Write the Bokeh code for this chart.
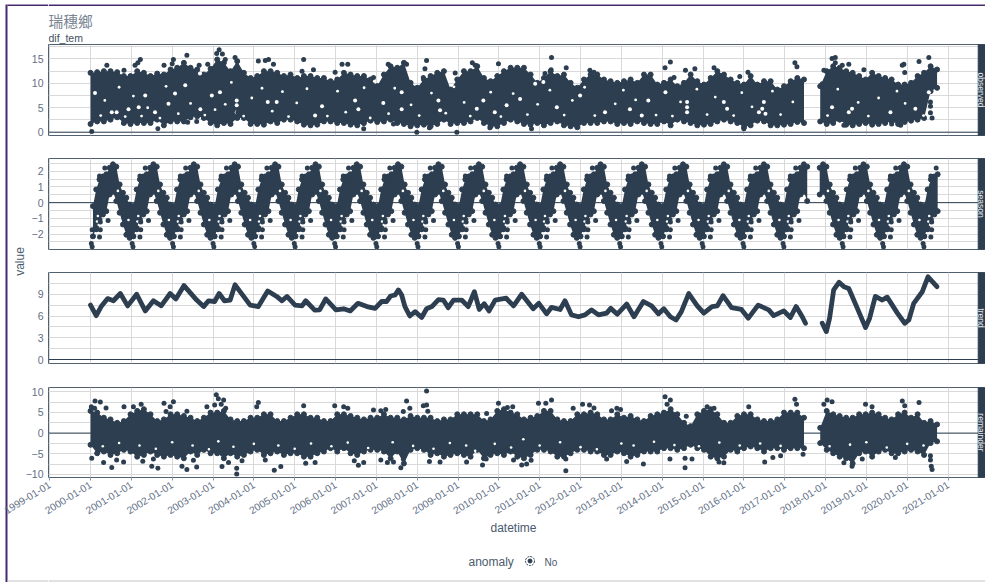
import numpy as np
import pandas as pd
from bokeh.embed import file_html
from bokeh.resources import INLINE
from bokeh.plotting import figure
from bokeh.layouts import column, row
from bokeh.models import Range1d, FixedTicker, DatetimeTickFormatter
from bokeh.core.properties import value

INK = "#2c3e50"
tick_labels = ["%d-01-01" % y for y in range(1999, 2022)]
panel_names = ["observed", "season", "trend", "remainder"]

# ---- observed: upper and lower edge of the cloud, read every 0.1633 year from 2000-01-01
obs_hi_a = [12.16,12.3,12.5,12.5,12.3,11.5,11.5,12.5,12.16,11.5,12.0,11.8,12.84,13.2,14.2,13.2,12.84,11.8,13.0,14.9,14.2,12.5,14.55,12.16,11.1,11.5,12.5,12.5,12.16,11.5,11.8,11.1,11.5,11.5,11.1,11.1,10.45,10.8,12.16,11.8,11.5,11.5,10.8,9.45,
 11.8,13.5,13.2,14.2,10.1,9.1,10.8,11.5,12.16,12.5,8.73,10.8,12.5,12.5,13.5,11.1,10.45,11.5,12.5,13.2,13.2,13.2,11.8,10.1,11.1,12.5,11.5,11.8,10.1,9.1,10.8,11.8,11.8,10.8,10.45,10.1,10.45,10.8,10.1,11.8,11.8,9.76,
 10.1,10.8,9.42,10.1,11.8,10.45,9.76,11.1,12.5,11.8,10.8,10.1,9.76,11.5,9.76,10.45,10.45,8.73,9.42,10.45,11.1,10.8]
obs_lo_a = [1.68,2.2,2.2,2.57,3.05,1.88,1.68,1.88,1.88,1.88,2.57,1.4,2.2,2.2,2.2,3.05,3.25,2.9,1.88,1.4,1.88,1.68,2.9,2.9,1.68,1.68,1.54,2.2,1.88,2.57,2.57,2.2,1.54,1.4,1.54,2.2,2.2,1.88,1.88,1.54,1.4,1.88,2.36,2.09,
 2.2,2.57,1.88,1.68,1.2,1.4,1.54,1.2,1.68,2.57,1.68,1.88,1.88,2.2,2.9,1.88,1.2,1.2,1.88,2.57,2.2,1.68,1.54,1.88,1.4,1.88,2.2,1.4,1.2,1.0,1.88,1.88,1.88,2.2,2.2,1.68,1.88,1.68,2.2,1.88,1.68,1.68,
 2.2,1.4,2.57,2.2,1.88,1.4,1.54,1.68,2.2,2.57,2.2,1.88,1.0,1.4,2.36,2.2,1.4,1.4,1.54,1.68,2.09,1.88]
# after the gap, read every 0.159 year from 2017.87
obs_hi_b = [9.42,12.5,13.5,13.2,12.5,12.16,11.5,10.8,12.16,11.5,11.1,10.8,9.76,9.76,10.1,11.5,12.16,13.5,12.84]
obs_lo_b = [2.2,1.68,1.88,2.57,1.54,1.4,1.68,1.88,1.54,1.68,1.88,2.2,1.68,2.09,2.36,2.57,2.9,8.4,9.08]
# single points standing clear of the cloud (years after 2000, value)
obs_pt_t = [.03,.4,.82,1.09,1.22,1.16,1.8,2.03,2.0,2.36,2.66,2.87,3.15,3.09,3.23,3.3,3.54,4.11,4.36,4.28,4.48,5.22,5.18,5.46,6.16,6.3,5.99,1.65,2.38,2.6,3.61,6.69,6.69,
 6.93,7.74,7.29,8.23,8.19,8.15,8.93,9.35,9.42,9.99,11.29,11.65,11.28,11.13,7.99,8.3,8.97,10.8,9.78,7.42,12.23,12.33,
 14.2,14.07,14.29,14.8,14.57,15.27,15.9,16.1,17.25,17.3,16.0,18.24,18.16,18.24,17.96,18.41,18.57,18.94,19.88,19.92,19.94,20.29,20.53,18.45,19.62,19.84,17.92,20.57,20.57,20.57,20.61]
obs_pt_v = [.14,13.7,12.7,13.7,14.9,14.2,13.7,14.9,14.0,15.75,13.7,13.9,16.9,16.1,16.0,14.9,15.3,14.6,14.9,14.7,13.9,14.9,12.5,12.8,13.9,13.9,12.3,.7,2.05,2.2,4.1,.7,1.85,
 11.2,13.9,13.9,14.7,13.0,11.2,12.1,14.2,13.7,14.0,15.3,13.2,12.8,12.0,0.0,.9,0.0,.7,.9,1.7,12.7,12.3,
 14.4,13.2,11.2,13.0,12.7,13.2,11.4,12.3,14.2,13.4,.7,15.3,15.1,14.2,12.7,13.7,13.9,12.8,13.7,13.9,12.2,14.5,15.3,1.4,1.7,1.4,9.9,6.2,5.3,4.0,2.9]
# open places inside the cloud
obs_gap_t = [.64,.52,1.58,1.34,.11,2.68,2.97,3.17,3.58,3.58,3.58,2.69,2.07,2.32,4.56,4.34,5.67,5.5,6.56,6.48,1.91,1.18,.93,
 7.17,7.62,7.62,8.52,9.46,9.9,9.62,8.56,10.52,10.19,10.89,11.09,11.42,11.99,12.6,13.21,13.5,13.66,
 14.61,14.61,14.61,15.51,16.45,16.53,16.37,16.49,18.57,18.16,18.65,19.59,20.2,20.53,15.59,14.08]
obs_gap_v = [4.1,4.1,4.1,7.5,8.0,12.0,7.5,8.2,5.5,6.5,4.1,4.7,7.9,9.6,6.2,6.2,5.3,3.4,4.7,6.5,5.8,5.1,4.7,
 6.0,8.2,4.7,6.5,4.8,4.1,6.5,4.5,6.8,5.5,9.9,10.3,5.1,7.5,4.1,4.7,3.4,6.5,
 4.1,5.1,6.2,6.2,4.8,3.8,4.1,6.2,4.1,5.1,4.8,4.1,4.8,8.2,4.8,8.2]
# smaller open places
obs_fleck_t = [.25,.35,.7,.85,1.05,1.25,1.4,1.7,1.85,2.15,2.45,2.8,3.05,3.3,3.45,3.75,3.95,4.2,4.45,4.7,4.85,5.05,5.3,5.8,6.05,6.25,6.7,6.85,
 7.3,7.45,7.85,8.05,8.35,8.7,8.9,9.15,9.3,9.8,10.05,10.35,10.7,10.95,11.25,11.6,11.8,12.1,12.35,12.85,13.05,13.35,13.85,
 14.25,14.45,14.85,15.1,15.3,15.75,15.95,16.2,16.7,16.9,17.2,18.05,18.3,18.8,19.05,19.3,19.75,19.95,20.4]
obs_fleck_v = [3.4,6.5,9.2,3.2,7.4,3.3,5.0,2.9,9.4,3.8,5.9,3.5,4.6,5.7,10.2,3.3,7.0,9.0,4.3,8.3,3.2,6.0,8.9,3.3,8.4,4.1,9.1,2.9,
 3.8,9.0,5.6,3.4,8.0,3.9,9.3,6.1,3.3,8.2,3.2,7.9,3.6,5.7,8.6,3.5,6.5,9.2,3.4,5.8,8.6,6.6,3.5,
 3.3,6.2,8.8,3.6,7.2,3.4,8.1,5.2,8.4,3.6,6.2,3.4,8.8,6.1,3.3,7.0,8.4,5.9,3.4]

# ---- season: the yearly cycle, read around its peak
season_peaks_a = [-.45,.55,1.54,2.53,3.53,4.52,5.51,6.52,7.53,8.52,9.51,10.52,11.5,12.49,13.5,14.51,15.51,16.49,17.47]
season_peaks_b = [17.94,18.93,19.92,20.91]
season_off = [-.49,-.41,-.33,-.245,-.163,-.082,0,.082,.163,.245,.327,.408]
season_hi = [-.22,.84,1.48,1.58,1.8,2.22,2.44,2.29,1.16,.63,.31,-.12]
season_lo = [-2.14,-1.61,-1.07,-.75,-.54,.52,.69,.1,-.64,-1.39,-2.04,-2.24]
season_pt_off = [-.2,-.33,-.245,-.12,-.31,-.31,-.41,-.51,-.49,-.33,.47,.49]
season_pt_val = [2.2,1.7,1.7,-1.13,-1.23,-1.72,-1.72,-1.72,-2.15,-2.19,-2.6,-2.8]
season_gap_off = [-.37,-.39,.12,.38]
season_gap_val = [-.85,-1.2,.75,-1.1]

# ---- trend
trend_t = [0,.14,.26,.42,.56,.73,.91,1.13,1.34,1.54,1.73,1.95,2.09,2.29,2.6,2.77,2.89,3.04,3.15,3.28,3.42,3.54,3.75,3.91,4.11,4.34,4.56,4.69,4.81,5.01,5.18,5.27,5.49,5.61,5.76,6.01,6.2,6.36,6.55,6.77,6.97,
 7.13,7.25,7.35,7.46,7.54,7.62,7.7,7.82,7.95,8.11,8.23,8.36,8.52,8.64,8.76,8.89,9.09,9.25,9.4,9.52,9.64,9.76,9.91,10.18,10.36,10.56,10.84,10.98,11.17,11.29,11.5,11.62,11.78,11.95,12.11,12.27,12.44,12.64,12.74,12.9,13.13,13.31,13.54,13.74,13.91,
 14.04,14.2,14.34,14.47,14.65,14.86,15.02,15.22,15.35,15.49,15.7,15.94,16.11,16.35,16.61,16.73,16.98,17.14,17.28,17.43,17.51]
trend_v = [7.5,6.05,7.3,8.4,8.1,9.1,7.4,9.0,6.7,8.1,7.4,9.1,8.35,10.2,8.2,7.3,8.1,8.0,9.1,8.1,8.2,10.3,8.7,7.5,7.3,9.45,8.7,8.1,8.7,7.5,7.4,8.1,6.8,6.85,8.35,6.85,7.0,6.7,7.75,7.3,7.05,
 8.0,8.0,8.76,8.9,9.6,8.9,7.3,6.0,6.6,5.8,7.0,7.3,8.25,8.2,7.15,8.2,8.2,7.3,9.35,6.9,7.7,6.7,8.2,8.45,7.4,9.0,7.0,7.75,6.3,7.2,6.9,8.1,6.15,5.9,6.15,6.85,6.15,6.4,7.05,6.25,7.65,5.9,8.0,7.4,6.3,
 7.0,5.9,5.45,6.6,9.1,7.4,6.4,7.3,7.4,8.8,7.15,6.9,5.7,7.5,6.85,6.05,6.7,5.8,7.3,5.9,5.0]
trend_t_b = [17.92,18.02,18.1,18.2,18.33,18.45,18.57,18.78,18.98,19.08,19.22,19.39,19.51,19.76,19.94,20.04,20.16,20.37,20.51,20.73]
trend_v_b = [5.0,3.85,5.7,9.6,10.65,10.05,9.8,7.05,4.4,5.7,8.7,8.2,8.6,6.4,5.0,5.45,7.75,9.35,11.4,10.05]

# ---- remainder: upper and lower edge of the cloud, same reading steps as observed
rem_hi_a = [5.37,4.96,3.73,3.32,2.5,2.91,4.55,5.37,5.78,4.55,2.91,3.32,4.55,4.55,4.14,3.73,2.91,3.73,4.96,4.96,5.37,3.32,2.91,2.91,3.73,3.73,4.55,4.55,2.91,2.91,3.73,4.55,4.55,3.73,3.73,2.91,2.91,4.55,4.55,4.14,3.73,3.32,3.73,3.73,
 4.55,3.73,3.73,3.32,4.14,3.73,3.73,3.73,2.91,3.32,3.32,4.55,4.55,4.55,4.55,2.91,3.32,5.37,5.78,4.96,4.55,3.32,3.73,4.14,5.37,5.37,3.32,2.91,2.91,4.55,4.55,4.96,4.55,3.32,3.32,4.55,3.73,4.14,3.32,2.91,4.14,4.55,
 4.96,5.78,4.55,2.5,1.68,4.55,5.37,5.78,4.55,2.5,2.5,4.14,4.55,4.55,3.32,2.91,2.91,3.32,4.96,4.96,4.96,3.73]
rem_lo_a = [-2.83,-4.88,-4.47,-5.29,-4.88,-4.06,-4.47,-5.7,-5.29,-4.47,-5.29,-5.7,-5.29,-5.7,-6.1,-4.47,-5.29,-4.06,-4.88,-4.88,-6.1,-4.88,-5.7,-5.29,-4.47,-4.06,-5.29,-4.88,-4.47,-5.29,-4.88,-4.88,-5.7,-5.7,-4.88,-4.47,-3.65,-4.47,-3.65,-4.88,-5.29,-4.47,-4.06,-4.06,
 -4.47,-6.1,-4.47,-7.34,-4.06,-3.65,-4.06,-5.29,-4.88,-5.7,-5.29,-4.88,-5.29,-5.7,-4.06,-6.1,-5.29,-4.88,-5.29,-4.47,-5.7,-6.1,-5.29,-4.06,-4.06,-4.47,-5.7,-5.7,-4.88,-4.06,-4.06,-4.47,-4.47,-5.29,-5.29,-4.47,-4.88,-5.7,-5.29,-4.47,-4.47,-4.47,
 -3.65,-3.65,-4.06,-3.65,-2.83,-3.65,-4.06,-5.7,-6.1,-5.7,-4.06,-4.47,-3.65,-3.24,-3.65,-4.47,-3.65,-3.65,-4.06,-3.65,-3.65,-3.65]
rem_hi_b = [1.27,5.37,4.55,4.14,3.73,3.73,4.55,4.55,4.96,4.55,3.73,3.32,4.55,4.96,3.73,4.55,2.5,2.91,2.09]
rem_lo_b = [-2.42,-4.06,-4.88,-5.7,-6.1,-7.34,-4.88,-4.47,-5.7,-4.47,-4.06,-4.88,-4.88,-4.47,-4.06,-4.47,-5.29,-2.42,-2.0]
rem_pt_t = [.11,.24,.38,.02,.1,.82,1.05,1.24,1.8,2.03,1.95,1.85,2.36,3.08,3.13,3.26,3.2,3.04,3.31,2.85,4.07,4.11,5.22,5.98,6.2,6.3,6.93,
 .03,.32,.52,.64,.81,1.28,1.5,1.65,1.54,2.24,2.36,2.6,2.52,3.22,3.38,3.58,3.58,3.71,4.28,4.5,4.66,5.27,5.5,6.46,6.56,6.69,
 7.11,7.23,7.74,7.82,7.66,8.23,8.15,8.23,8.26,9.7,9.99,10.21,10.34,10.97,11.15,11.29,11.82,12.05,12.22,12.33,12.76,12.89,12.98,
 7.11,7.27,7.42,7.6,7.66,8.3,8.56,9.21,9.6,9.69,10.36,10.56,10.68,10.79,11.64,11.64,12.64,13.13,13.54,
 14.07,14.2,14.12,14.59,15.1,15.27,16.12,17.25,17.29,18.04,18.16,17.96,18.98,19.88,19.94,20.29,19.14,
 14.19,14.56,14.56,14.73,15.39,15.51,16.51,16.71,16.9,17.45,18.45,18.65,18.9,19.71,20.57,20.57,20.59,20.61]
rem_pt_v = [7.8,7.5,6.1,6.4,6.0,6.4,6.4,7.0,7.2,7.6,6.4,5.2,5.3,9.3,8.3,8.0,7.0,6.8,6.0,6.4,6.4,7.4,6.6,6.6,6.4,6.0,5.6,
 -6.1,-7.1,-8.3,-6.5,-7.0,-6.8,-8.0,-8.5,-6.3,-8.0,-8.8,-8.2,-6.6,-8.1,-7.1,-8.5,-9.9,-6.7,-6.5,-9.0,-8.1,-7.3,-7.1,-6.7,-7.8,-7.1,
 5.4,5.7,7.8,6.0,5.2,10.2,6.6,6.8,5.3,4.75,7.2,6.2,6.4,7.2,7.2,8.0,6.0,7.0,6.8,6.1,5.4,6.0,5.7,
 -6.5,-7.1,-7.0,-8.4,-6.3,-6.9,-7.0,-7.0,-7.7,-6.3,-6.5,-7.7,-7.5,-6.6,-9.1,-6.3,-6.3,-6.9,-7.5,
 8.8,8.0,7.0,4.1,6.4,6.0,6.4,8.2,7.0,8.0,7.6,7.0,7.0,7.8,6.6,7.4,6.4,
 -6.3,-6.1,-8.4,-6.3,-7.0,-7.2,-7.0,-5.9,-5.5,-5.1,-7.2,-8.0,-6.3,-5.9,-5.5,-6.5,-8.0,-8.8]
rem_gap_t = [.3,.7,1.2,1.6,2.0,2.5,2.9,3.13,3.5,4.0,4.6,5.0,5.4,5.9,6.3,6.8,7.4,7.9,8.4,8.8,9.2,9.42,9.9,10.3,10.6,11.0,11.5,12.0,12.4,13.0,13.3,13.8,14.3,14.9,15.4,15.9,16.4,16.9,18.1,18.6,19.0,19.5,20.0,20.4]
rem_gap_v = [-3.2,-2.4,-3.0,-3.8,-2.2,-3.0,-3.9,-2.0,-3.3,-2.6,-3.0,-3.8,-2.5,-3.2,-2.3,-3.6,-2.2,-3.1,-3.8,-2.4,-3.0,-4.3,-2.6,-3.5,-1.5,-3.0,-2.2,-3.4,-3.9,-2.5,-3.0,-2.1,-2.9,-3.2,-2.3,-3.0,-2.5,-3.1,-3.2,-2.8,-2.2,-3.5,-2.6,-3.0]

# axis set-up, value ranges per panel
yticks = [[0,5,10,15],[-2,-1,0,1,2],[0,3,6,9],[-10,-5,0,5,10]]
yminor = [[2.5,7.5,12.5,17.5],[-2.5,-1.5,-.5,.5,1.5,2.5],[1.5,4.5,7.5,10.5],[-7.5,-2.5,2.5,7.5]]
yspans = [(-.68,17.96),(-2.98,2.81),(-.55,12.0),(-10.75,11.04)]

EPOCH = pd.Timestamp("2000-01-01").value / 1e6
YEAR = 365.25 * 86400000.0
def when(t):
    return EPOCH + np.asarray(t, dtype=float) * YEAR

x_start, strip_start, strip_mid, x_end = when(-1.029), when(21.74), when(21.81), when(21.918)
xticks = [pd.Timestamp(s).value / 1e6 for s in tick_labels]
GRID = "#d9d9d9"
LABEL = "#5f6f86"
FONT = "Liberation Sans"
LEFT = 48


def panel(i, height, top, bottom, is_last=False):
    p = figure(width=937 + LEFT, height=height, x_axis_type="datetime", output_backend="svg",
               toolbar_location=None, x_range=Range1d(float(x_start), float(x_end)),
               y_range=Range1d(*yspans[i]), min_border_left=LEFT, min_border_right=0,
               min_border_top=top, min_border_bottom=bottom, background_fill_color="white",
               border_fill_color=None, outline_line_color="#50606f", outline_line_width=1)
    p.xaxis.ticker = FixedTicker(ticks=xticks)
    p.yaxis.ticker = FixedTicker(ticks=yticks[i], minor_ticks=yminor[i])
    p.xgrid.ticker = FixedTicker(ticks=xticks)
    p.ygrid.ticker = FixedTicker(ticks=yticks[i], minor_ticks=yminor[i])
    p.xgrid.grid_line_color = GRID
    p.ygrid.grid_line_color = GRID
    p.ygrid.minor_grid_line_color = GRID
    p.yaxis.axis_line_color = None
    p.yaxis.major_tick_line_color = None
    p.yaxis.minor_tick_line_color = None
    p.yaxis.major_tick_out = 0
    p.yaxis.major_tick_in = 0
    p.yaxis.minor_tick_out = 0
    p.yaxis.minor_tick_in = 0
    p.yaxis.major_label_standoff = 5
    p.yaxis.major_label_text_font = FONT
    p.yaxis.major_label_text_font_size = "10.5px"
    p.yaxis.major_label_text_color = LABEL
    p.xaxis.visible = is_last
    p.xaxis.axis_line_color = None
    p.xaxis.minor_tick_line_color = None
    if is_last:
        fmt = "%Y-%m-%d"
        p.xaxis.formatter = DatetimeTickFormatter(years=fmt, months=fmt, days=fmt, hours=fmt,
                                                  minutes=fmt, seconds=fmt, context=None)
        p.xaxis.major_label_orientation = 0.55
        p.xaxis.major_tick_line_color = "#8a97a5"
        p.xaxis.major_tick_out = 3
        p.xaxis.major_tick_in = 0
        p.xaxis.major_label_standoff = 3
        p.xaxis.major_label_text_font = FONT
        p.xaxis.major_label_text_font_size = "10.3px"
        p.xaxis.major_label_text_color = LABEL
    p.quad(left=[float(strip_start)], right=[float(x_end)], bottom=[yspans[i][0]], top=[yspans[i][1]],
           fill_color=INK, line_color=INK)
    p.text(x=[float(strip_mid)], y=[sum(yspans[i]) / 2], text=[panel_names[i]], angle=-np.pi / 2,
           text_color="#e6e9ee", text_font=value(FONT), text_font_size="8.5px",
           text_align="center", text_baseline="middle")
    return p


def band(p, t, hi, lo):
    x = when(t)
    p.varea(x=x, y1=lo, y2=hi, fill_color=INK)
    p.scatter(x=x, y=hi, size=5, color=INK)
    p.scatter(x=x, y=lo, size=5, color=INK)


def dots(p, t, v, size=5, color=INK):
    p.scatter(x=when(t), y=v, size=size, color=color, line_color=None)


def zero_line(p):
    p.line(x=[float(x_start), float(strip_start)], y=[0, 0], line_color=INK, line_width=1)


f1 = panel(0, 103, 0, 12)
t_a = np.arange(len(obs_hi_a)) * 0.1633
t_b = 17.87 + np.arange(len(obs_hi_b)) * 0.159
zero_line(f1)
band(f1, t_a, obs_hi_a, obs_lo_a)
band(f1, t_b, obs_hi_b, obs_lo_b)
dots(f1, obs_gap_t, obs_gap_v, 4, "white")
dots(f1, obs_fleck_t, obs_fleck_v, 2.8, "white")
dots(f1, obs_pt_t, obs_pt_v)

f2 = panel(1, 113, 11, 11)
zero_line(f2)
off, hi, lo = np.array(season_off), np.array(season_hi), np.array(season_lo)
for peaks, t0, t1 in ((season_peaks_a, 0.0, 17.56), (season_peaks_b, 17.84, 20.75)):
    tt = np.concatenate([pk + off for pk in peaks])
    hh = np.tile(hi, len(peaks))
    ll = np.tile(lo, len(peaks))
    keep = (tt >= t0) & (tt <= t1)
    band(f2, tt[keep], hh[keep], ll[keep])
    gt = np.concatenate([pk + np.array(season_gap_off) for pk in peaks])
    gv = np.tile(season_gap_val, len(peaks))
    keep = (gt >= t0) & (gt <= t1)
    dots(f2, gt[keep], gv[keep], 2.6, "white")
    pt = np.concatenate([pk + np.array(season_pt_off) for pk in peaks])
    pv = np.tile(season_pt_val, len(peaks))
    keep = (pt >= t0) & (pt <= t1)
    dots(f2, pt[keep], pv[keep])

f3 = panel(2, 115, 12, 12)
zero_line(f3)
for tt, vv in ((trend_t, trend_v), (trend_t_b, trend_v_b)):
    f3.line(x=when(tt), y=vv, line_color=INK, line_width=4.8, line_join="round", line_cap="round")

f4 = panel(3, 145, 12, 43, is_last=True)
zero_line(f4)
band(f4, t_a, rem_hi_a, rem_lo_a)
band(f4, t_b, rem_hi_b, rem_lo_b)
dots(f4, rem_gap_t, rem_gap_v, 2.6, "white")
dots(f4, rem_pt_t, rem_pt_v)


def page_piece(x0, x1, y0, y1, left=0):
    p = figure(width=x1 - x0 + left, height=y1 - y0, output_backend="svg", toolbar_location=None,
               x_range=Range1d(x0, x1), y_range=Range1d(y1, y0), x_axis_location=None,
               y_axis_location=None, min_border=0, min_border_left=left, outline_line_color=None,
               background_fill_color=None, border_fill_color=None)
    p.grid.visible = False
    return p


def words(p, x, y, s, size, color, align="left", angle=0.0, font=FONT):
    p.text(x=[x], y=[y], text=[s], text_font=value(font), text_font_size=size, text_color=color,
           text_align=align, text_baseline="middle", angle=angle)


PURPLE = "#472a6e"
RULE = "#c4c4c4"
side = page_piece(0, 48, 0, 582)
side.quad(left=[5], right=[7], top=[4], bottom=[582], fill_color=PURPLE, line_color=None)
side.quad(left=[7], right=[48], top=[4], bottom=[5.5], fill_color=PURPLE, line_color=None)
side.quad(left=[7], right=[48], top=[580], bottom=[581], fill_color=RULE, line_color=None)
words(side, 19, 261, "value", "12px", "#4a5a6e", "center", np.pi / 2)

head = page_piece(48, 985, 0, 44, LEFT)
head.quad(left=[48], right=[985], top=[4], bottom=[5.5], fill_color=PURPLE, line_color=None)
words(head, 48, 20, "瑞穗鄉", "14.7px", "#7a8694", font="Noto Sans CJK TC")
words(head, 48, 37.5, "dif_tem", "10.5px", "#3f4f60")

foot = page_piece(48, 985, 520, 582, LEFT)
words(foot, 513, 527, "datetime", "12px", "#4a5a6e", "center")
words(foot, 468, 561.5, "anomaly", "12px", "#4a5a6e")
foot.scatter(x=[529.5], y=[560.5], size=9, fill_color="white", line_color=INK, line_width=1, line_dash="2 1")
foot.scatter(x=[529.5], y=[560.5], size=4, color=INK)
words(foot, 544, 561.5, "No", "10px", "#4a5a6e")
foot.quad(left=[48], right=[985], top=[580], bottom=[581], fill_color=RULE, line_color=None)

main = column(head, f1, f2, f3, f4, foot, spacing=0, margin=(0, 0, 0, -LEFT))
root = row(side, main, spacing=0)
open("out.html", "w").write(file_html(root, INLINE))
